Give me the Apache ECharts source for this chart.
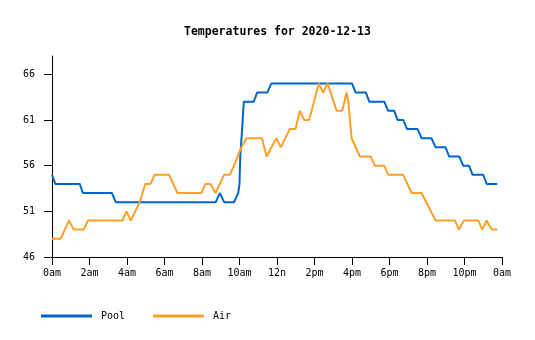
<!DOCTYPE html>
<html><head><meta charset="utf-8">
<script src="https://cdn.jsdelivr.net/npm/echarts@6/dist/echarts.min.js"></script>
<style>html,body{margin:0;padding:0;background:#fff}#c{width:535px;height:340px}</style>
</head><body><div id="c"></div>
<script>
var title = 'Temperatures for 2020-12-13';
var xTickLabels = ['0am','2am','4am','6am','8am','10am','12n','2pm','4pm','6pm','8pm','10pm','0am'];
var yTicks = [46, 51, 56, 61, 66];
var poolTimes = [0,0.18,1.48,1.65,3.2,3.4,8.73,8.95,9.18,9.71,9.93,10.0,10.04,10.14,10.23,10.76,10.94,11.48,11.7,16.0,16.19,16.74,16.92,17.72,17.93,18.25,18.43,18.73,18.94,19.5,19.71,20.24,20.46,20.99,21.18,21.72,21.93,22.24,22.43,23.0,23.18,23.75];
var poolValues = [55,54,54,53,53,52,52,53,52,52,53,54,57,60,63,63,64,64,65,65,64,64,63,63,62,62,61,61,60,60,59,59,58,58,57,57,56,56,55,55,54,54];
var airTimes = [0,0.46,0.91,1.16,1.69,1.92,3.76,3.97,4.2,4.68,4.97,5.25,5.48,6.24,6.69,7.97,8.18,8.45,8.72,9.18,9.48,9.71,9.9,10.1,10.37,11.2,11.44,11.97,12.2,12.68,12.99,13.22,13.45,13.71,14.23,14.46,14.7,15.18,15.48,15.71,15.8,15.98,16.42,16.99,17.22,17.72,17.93,18.73,19.18,19.71,20.46,21.49,21.7,21.97,22.73,22.95,23.18,23.45,23.75];
var airValues = [48,48,50,49,49,50,50,51,50,52,54,54,55,55,53,53,54,54,53,55,55,56,57,58,59,59,57,59,58,60,60,62,61,61,65,64,65,62,62,64,63,59,57,57,56,56,55,55,53,53,50,50,49,50,50,49,50,49,49];

function pairs(t, v) { return t.map(function (x, i) { return [x, v[i]]; }); }
var FONT = 'DejaVu Sans Mono';
var chart = echarts.init(document.getElementById('c'), null, {renderer: 'canvas'});
chart.setOption({
  animation: false,
  title: {
    text: title, left: 184, top: 26, padding: 0,
    textStyle: {fontFamily: FONT, fontSize: 11.5, fontWeight: 'bold', color: '#000'}
  },
  grid: {left: 52, right: 33, top: 56, bottom: 83, containLabel: false},
  legend: {
    left: 41, top: 311, padding: 0, itemWidth: 51, itemHeight: 3, icon: 'rect', itemGap: 28,
    textStyle: {fontFamily: FONT, fontSize: 10, color: '#000', padding: [0, 0, 0, 4]},
    data: ['Pool', 'Air']
  },
  xAxis: {
    type: 'value', min: 0, max: 24, interval: 2,
    axisLine: {lineStyle: {color: '#000', width: 1}},
    axisTick: {length: 8, lineStyle: {color: '#000'}},
    splitLine: {show: false},
    axisLabel: {
      margin: 11, fontFamily: FONT, fontSize: 10, color: '#000',
      formatter: function (v) { return xTickLabels[Math.round(v / 2)]; }
    }
  },
  yAxis: {
    type: 'value', min: 46, max: 68,
    axisLine: {show: true, lineStyle: {color: '#000', width: 1}},
    axisTick: {show: true, length: 8, customValues: yTicks, lineStyle: {color: '#000'}},
    splitLine: {show: false},
    axisLabel: {margin: 17, fontFamily: FONT, fontSize: 10, color: '#000', customValues: yTicks}
  },
  series: [
    {name: 'Pool', type: 'line', data: pairs(poolTimes, poolValues), showSymbol: false, symbol: 'none',
     lineStyle: {color: '#0066cc', width: 2}, itemStyle: {color: '#0066cc'}},
    {name: 'Air', type: 'line', data: pairs(airTimes, airValues), showSymbol: false, symbol: 'none',
     lineStyle: {color: '#ff9f2a', width: 2}, itemStyle: {color: '#ff9f2a'}}
  ]
});
</script></body></html>
